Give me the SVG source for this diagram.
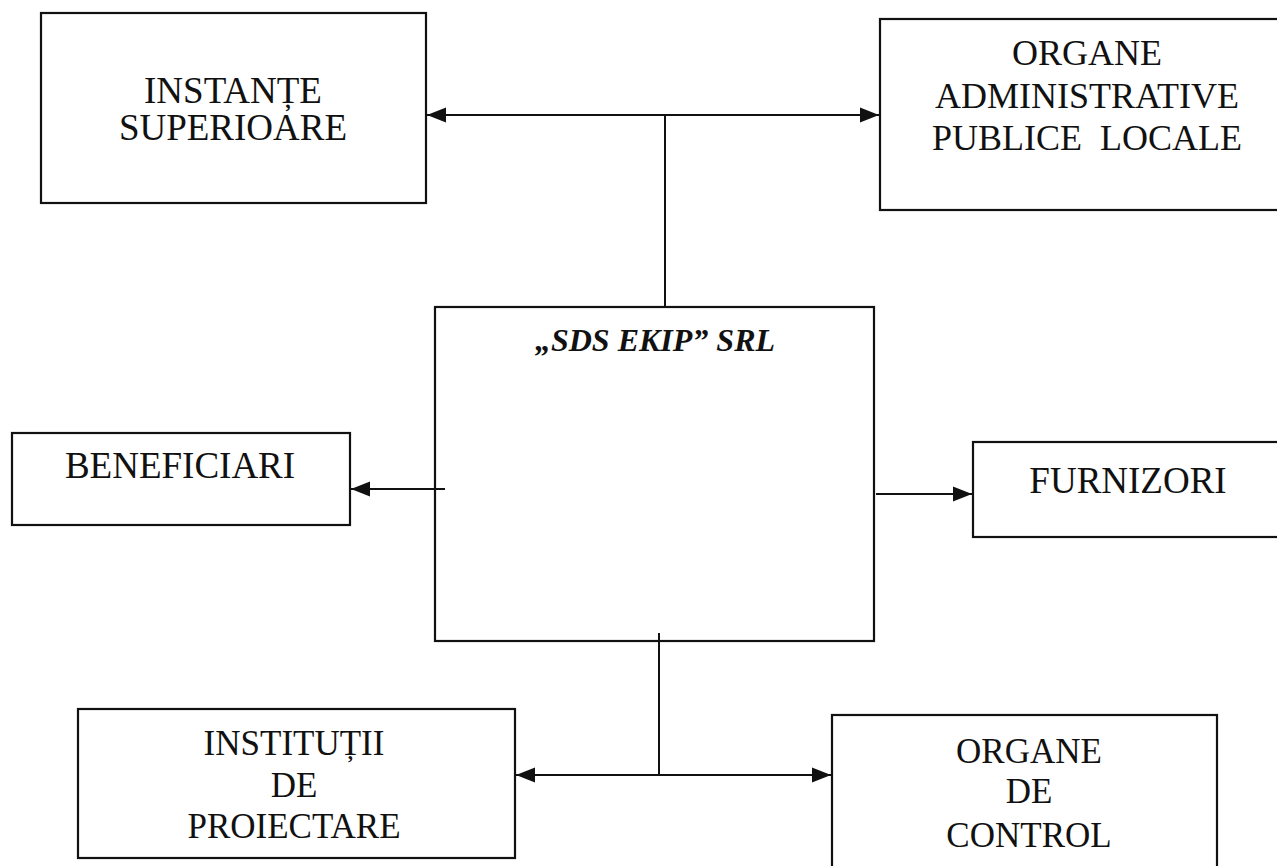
<svg xmlns="http://www.w3.org/2000/svg" width="1277" height="866" viewBox="0 0 1277 866">
<style>
.box{fill:#fff;stroke:#111;stroke-width:2.2}
.t{font-family:"Liberation Serif","Times New Roman",serif;fill:#111;text-anchor:middle;white-space:pre}
.c{fill:none;stroke:#111;stroke-width:2}
</style>
<defs>
<marker id="ah" markerUnits="userSpaceOnUse" markerWidth="20" markerHeight="16" refX="19" refY="8" orient="auto-start-reverse">
<path d="M0,0.5 L19,8 L0,15.5 z" fill="#111"/>
</marker>
</defs>
<rect width="1277" height="866" fill="#fff"/>
<g id="instante">
<rect class="box" x="41" y="13" width="385" height="190"/>
<text class="t" font-size="37" x="233" y="103">INSTANȚE</text>
<text class="t" font-size="37" x="233" y="140">SUPERIOARE</text>
</g>
<g id="organe-admin">
<rect class="box" x="880" y="19" width="410" height="191"/>
<text class="t" font-size="36" x="1087" y="65">ORGANE</text>
<text class="t" font-size="36" x="1087" y="108">ADMINISTRATIVE</text>
<text class="t" font-size="36" x="1087" y="150" xml:space="preserve">PUBLICE  LOCALE</text>
</g>
<g id="sds">
<rect class="box" x="435" y="307" width="439" height="334"/>
<text class="t" font-size="32" font-weight="bold" font-style="italic" x="655" y="351">„SDS EKIP” SRL</text>
</g>
<g id="beneficiari">
<rect class="box" x="12" y="433" width="338" height="92"/>
<text class="t" font-size="37" x="180" y="478">BENEFICIARI</text>
</g>
<g id="furnizori">
<rect class="box" x="973" y="442" width="320" height="95"/>
<text class="t" font-size="37" x="1128" y="493">FURNIZORI</text>
</g>
<g id="institutii">
<rect class="box" x="78" y="709" width="437" height="149"/>
<text class="t" font-size="35" x="294" y="755">INSTITUȚII</text>
<text class="t" font-size="35" x="294" y="797">DE</text>
<text class="t" font-size="35" x="294" y="838">PROIECTARE</text>
</g>
<g id="organe-control">
<rect class="box" x="832" y="715" width="385" height="170"/>
<text class="t" font-size="35" x="1029" y="763">ORGANE</text>
<text class="t" font-size="35" x="1029" y="803">DE</text>
<text class="t" font-size="35" x="1029" y="847">CONTROL</text>
</g>
<g id="connectors">
<path class="c" d="M427,115 H879" marker-start="url(#ah)" marker-end="url(#ah)"/>
<path class="c" d="M665,115 V307"/>
<path class="c" d="M445,489 H351" marker-end="url(#ah)"/>
<path class="c" d="M876,494 H972" marker-end="url(#ah)"/>
<path class="c" d="M659,633 V775"/>
<path class="c" d="M516,775 H831" marker-start="url(#ah)" marker-end="url(#ah)"/>
</g>
</svg>
